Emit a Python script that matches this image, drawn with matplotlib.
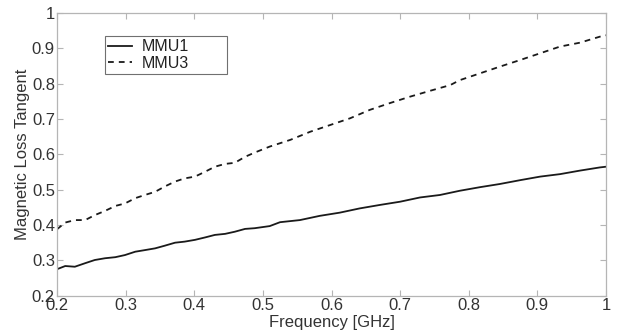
import matplotlib
matplotlib.use("Agg")
import matplotlib.pyplot as plt

plt.rcParams['font.family'] = ['Liberation Sans', 'DejaVu Sans']

freq1 = [0.200, 0.212, 0.226, 0.241, 0.255, 0.270, 0.285, 0.299, 0.314, 0.328,
         0.343, 0.357, 0.372, 0.386, 0.401, 0.416, 0.430, 0.445, 0.459, 0.474,
         0.488, 0.510, 0.525, 0.554, 0.583, 0.612, 0.641, 0.671, 0.700, 0.729,
         0.758, 0.787, 0.816, 0.845, 0.875, 0.904, 0.933, 0.962, 0.991, 1.000]
mmu1 = [0.275, 0.284, 0.282, 0.292, 0.301, 0.306, 0.309, 0.315, 0.3245, 0.329,
        0.334, 0.3415, 0.350, 0.353, 0.358, 0.365, 0.372, 0.375, 0.381, 0.389,
        0.391, 0.397, 0.408, 0.414, 0.426, 0.435, 0.447, 0.457, 0.466, 0.478,
        0.485, 0.497, 0.507, 0.516, 0.527, 0.537, 0.544, 0.554, 0.563, 0.565]

freq3 = [0.200, 0.212, 0.226, 0.241, 0.255, 0.270, 0.285, 0.299, 0.314, 0.328,
         0.343, 0.357, 0.372, 0.386, 0.401, 0.416, 0.430, 0.445, 0.459, 0.474,
         0.488, 0.510, 0.540, 0.569, 0.598, 0.627, 0.656, 0.685, 0.714, 0.744,
         0.773, 0.787, 0.816, 0.845, 0.875, 0.904, 0.933, 0.962, 0.991, 1.000]
mmu3 = [0.388, 0.407, 0.414, 0.414, 0.428, 0.440, 0.454, 0.461, 0.476, 0.485,
        0.494, 0.509, 0.523, 0.532, 0.537, 0.551, 0.565, 0.573, 0.576, 0.593,
        0.605, 0.622, 0.641, 0.664, 0.683, 0.702, 0.726, 0.745, 0.763, 0.780,
        0.796, 0.810, 0.829, 0.848, 0.867, 0.886, 0.905, 0.916, 0.933, 0.937]

labels = ['MMU1', 'MMU3']
xticks = [0.2, 0.3, 0.4, 0.5, 0.6, 0.7, 0.8, 0.9, 1.0]
xticklabels = ['0.2', '0.3', '0.4', '0.5', '0.6', '0.7', '0.8', '0.9', '1']
yticks = [0.2, 0.3, 0.4, 0.5, 0.6, 0.7, 0.8, 0.9, 1.0]
yticklabels = ['0.2', '0.3', '0.4', '0.5', '0.6', '0.7', '0.8', '0.9', '1']

fig = plt.figure(figsize=(6.19, 3.35), dpi=100)
ax = fig.add_axes([57/619, (335-295.7)/335, 549/619, 282.7/335])

ax.plot(freq1, mmu1, color='#1a1a1a', lw=1.3, label=labels[0])
ax.plot(freq3, mmu3, color='#1a1a1a', lw=1.3, linestyle=(0, (3.2, 2.8)), label=labels[1])

ax.set_xlim(0.2, 1.0)
ax.set_ylim(0.2, 1.0)
ax.set_xticks(xticks)
ax.set_xticklabels(xticklabels)
ax.set_yticks(yticks)
ax.set_yticklabels(yticklabels)

for s in ax.spines.values():
    s.set_color('#b5b5b5')
    s.set_linewidth(0.9)
ax.tick_params(direction='in', length=4, width=0.8, color='#b5b5b5',
               top=True, right=True, labelsize=12, labelcolor='#333333', pad=1.5)

ax.set_xlabel('Frequency [GHz]', fontsize=12, color='#333333', labelpad=1.5)
ax.set_ylabel('Magnetic Loss Tangent', fontsize=12, color='#333333', labelpad=1)

leg = ax.legend(loc='upper left', bbox_to_anchor=(0.087, 0.787, 0.222, 0.132),
                mode='expand', borderaxespad=0, fontsize=11.5, handlelength=1.5,
                handletextpad=0.6, labelspacing=0.1, borderpad=0.2,
                fancybox=False, framealpha=1, edgecolor='#707070', labelcolor='#222222')
leg.get_frame().set_linewidth(0.8)

fig.savefig('out.png', dpi=100)
